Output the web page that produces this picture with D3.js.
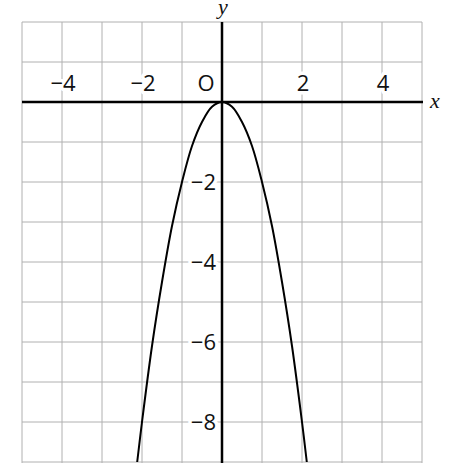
<!DOCTYPE html>
<html>
<head>
<meta charset="utf-8">
<script src="https://cdn.jsdelivr.net/npm/d3@7"></script>
<style>
  body { margin: 0; background: #fff; }
  svg { display: block; }
  .tick-label { font-family: "Open Sans", Lato, sans-serif; font-size: 22px; fill: #111;
    stroke: #fff; stroke-width: 7px; paint-order: stroke; stroke-linejoin: round; }
  .axis-name { font-family: "Liberation Serif", "DejaVu Serif", serif; font-style: italic; font-size: 22px; fill: #111; }
</style>
</head>
<body>
<svg id="chart"></svg>
<script>
// window size
var width = 462;
var height = 463;

// values
var xTicks = [-4, -2, 2, 4];
var yTicks = [-2, -4, -6, -8];
var curveX = [-2.12, -2, -1.75, -1.5, -1.25, -1, -0.75, -0.5, -0.25, 0, 0.25, 0.5, 0.75, 1, 1.25, 1.5, 1.75, 2, 2.12];
var curveY = [-9, -8, -6.1, -4.5, -3.1, -2, -1.1, -0.5, -0.12, 0, -0.12, -0.5, -1.1, -2, -3.1, -4.5, -6.1, -8, -9];

var svg = d3.select('#chart')
  .attr('width', width)
  .attr('height', height);

// graph scale (40px per unit)
var x = d3.scaleLinear([-5, 5], [22, 422]);
var y = d3.scaleLinear([2, -9], [22, 462]);

// grid
svg.append('g')
  .selectAll('line')
  .data(d3.range(-5, 6))
  .enter()
  .append('line')
  .attr('x1', (d) => x(d)).attr('x2', (d) => x(d))
  .attr('y1', y(2)).attr('y2', height)
  .attr('stroke', '#b0b0b0')
  .attr('stroke-width', 1);

svg.append('g')
  .selectAll('line')
  .data(d3.range(-9, 3))
  .enter()
  .append('line')
  .attr('x1', x(-5)).attr('x2', x(5))
  .attr('y1', (d) => y(d)).attr('y2', (d) => y(d))
  .attr('stroke', '#b0b0b0')
  .attr('stroke-width', 1);

// tick labels
svg.append('g')
  .selectAll('text')
  .data(xTicks)
  .enter()
  .append('text')
  .attr('class', 'tick-label')
  .attr('x', (d) => x(d) + 1)
  .attr('y', y(0) - 11)
  .attr('text-anchor', 'middle')
  .text((d) => d < 0 ? '\u2212' + Math.abs(d) : d);

svg.append('text')
  .attr('class', 'tick-label')
  .attr('x', x(0) - 16)
  .attr('y', y(0) - 11)
  .attr('text-anchor', 'middle')
  .text('O');

svg.append('g')
  .selectAll('text')
  .data(yTicks)
  .enter()
  .append('text')
  .attr('class', 'tick-label')
  .attr('x', x(0) - 6)
  .attr('y', (d) => y(d) + 8)
  .attr('text-anchor', 'end')
  .text((d) => '\u2212' + Math.abs(d));

// axes
svg.append('line')
  .attr('x1', x(-5)).attr('x2', x(5) + 1)
  .attr('y1', y(0)).attr('y2', y(0))
  .attr('stroke', '#000').attr('stroke-width', 2.5);

svg.append('line')
  .attr('x1', x(0)).attr('x2', x(0))
  .attr('y1', y(2)).attr('y2', height)
  .attr('stroke', '#000').attr('stroke-width', 2.5);

svg.append('text')
  .attr('class', 'axis-name')
  .attr('x', x(5) + 8)
  .attr('y', y(0) + 6)
  .text('x');

svg.append('text')
  .attr('class', 'axis-name')
  .attr('x', x(0) + 1)
  .attr('y', 14)
  .attr('text-anchor', 'middle')
  .text('y');

// parabola
var line = d3.line()
  .x((d, i) => x(curveX[i]))
  .y((d, i) => y(curveY[i]))
  .curve(d3.curveCatmullRom);

svg.append('path')
  .datum(curveX)
  .attr('d', line)
  .attr('fill', 'none')
  .attr('stroke', '#000')
  .attr('stroke-width', 2);
</script>
</body>
</html>
